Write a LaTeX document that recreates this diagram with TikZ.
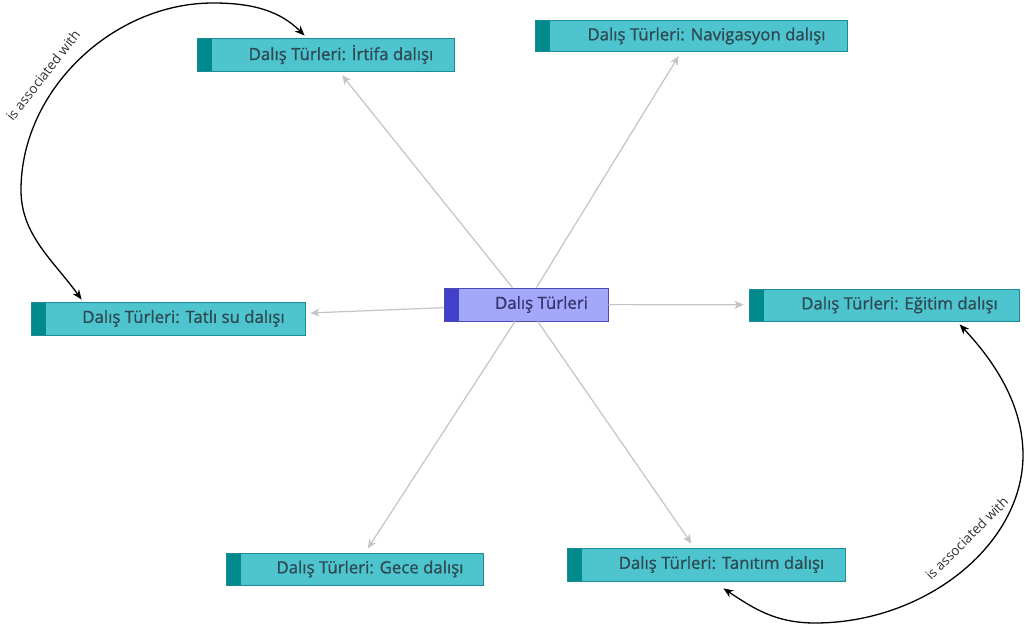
\documentclass[tikz,border=0pt]{standalone}
\usepackage{fontspec}
\usetikzlibrary{arrows.meta,calc}
\newfontfamily\lblfont{Open Sans}[FakeBold=1.1]
\newfontfamily\assocfont{Open Sans}
\definecolor{subfill}{HTML}{4EC5CE}
\definecolor{substripe}{HTML}{008A8E}
\definecolor{subborder}{HTML}{1E8A92}
\definecolor{subtext}{HTML}{2E4A52}
\definecolor{ctrfill}{HTML}{A3A8FA}
\definecolor{ctrstripe}{HTML}{4040C8}
\definecolor{ctrborder}{HTML}{4B4BB5}
\definecolor{ctrtext}{HTML}{353570}
\definecolor{spokegray}{HTML}{C4C4C4}
\definecolor{assoctext}{HTML}{333333}
\tikzset{
  box/.style={rectangle, inner sep=0pt, line width=0.8pt,
    font=\lblfont\fontsize{16.8}{19}\selectfont},
  subbox/.style={box, draw=subborder, fill=subfill, text=subtext,
    path picture={\fill[substripe] (path picture bounding box.south west) rectangle ([xshift=15pt]path picture bounding box.north west);}},
  ctrbox/.style={box, draw=ctrborder, fill=ctrfill, text=ctrtext,
    path picture={\fill[ctrstripe] (path picture bounding box.south west) rectangle ([xshift=15pt]path picture bounding box.north west);}},
  spoke/.style={draw=spokegray, line width=1.2pt, shorten >=5pt,
    -{Stealth[length=9pt,width=8pt,inset=2.5pt]}},
  assoc/.style={draw=black, line width=1.3pt,
    {Stealth[length=10pt,width=8pt]}-{Stealth[length=10pt,width=8pt]}},
  assoclabel/.style={font=\assocfont\fontsize{13.5}{15}\selectfont, text=assoctext, inner xsep=2pt, anchor=south}
}
\begin{document}
\begin{tikzpicture}[x=1pt,y=1pt]
\useasboundingbox[fill=white] (0,0) rectangle (1025,630);
\node[ctrbox, minimum width=164pt, minimum height=33pt] (ctr) at (526,325.5) {\hspace*{31pt}Dalış Türleri};
\node[subbox, minimum width=257pt, minimum height=33pt] (irt) at (325.5,575.5) {\hspace*{31pt}Dalış Türleri: İrtifa dalışı};
\node[subbox, minimum width=312pt, minimum height=31pt] (nav) at (691,594) {\hspace*{31pt}Dalış Türleri: Navigasyon dalışı};
\node[subbox, minimum width=274pt, minimum height=33pt] (tat) at (168,311.5) {\hspace*{31pt}Dalış Türleri: Tatlı su dalışı};
\node[subbox, minimum width=270pt, minimum height=32pt] (egi) at (884,325) {\hspace*{31pt}Dalış Türleri: Eğitim dalışı};
\node[subbox, minimum width=257pt, minimum height=32pt] (gec) at (354.5,61) {\hspace*{31pt}Dalış Türleri: Gece dalışı};
\node[subbox, minimum width=278pt, minimum height=33pt] (tan) at (706,65.5) {\hspace*{31pt}Dalış Türleri: Tanıtım dalışı};

\draw[spoke] (ctr) -- (irt);
\draw[spoke] (ctr) -- (nav);
\draw[spoke] (ctr) -- (tat);
\draw[spoke] (ctr) -- (egi);
\draw[spoke] (ctr) -- (gec);
\draw[spoke] (ctr) -- (tan);

\draw[assoc] ($(tat.north west)+(51,2)$)
  .. controls (53,370) and (21,395) .. (21,440)
  .. controls (21,540) and (113,627) .. node[assoclabel, inner ysep=11pt, pos=0.38, rotate=52] {is associated with} (213,627)
  .. controls (253,627) and (280,619) .. ($(irt.north west)+(108,2)$);

\draw[assoc] ($(egi.south west)+(211,-3)$)
  .. controls (995,268) and (1023,225) .. (1023,175)
  .. controls (1023,85) and (925,7) .. node[assoclabel, inner ysep=15pt, pos=0.4, rotate=45] {is associated with} (815,7)
  .. controls (775,7) and (753,22) .. ($(tan.south east)+(-122,-7)$);
\end{tikzpicture}
\end{document}
